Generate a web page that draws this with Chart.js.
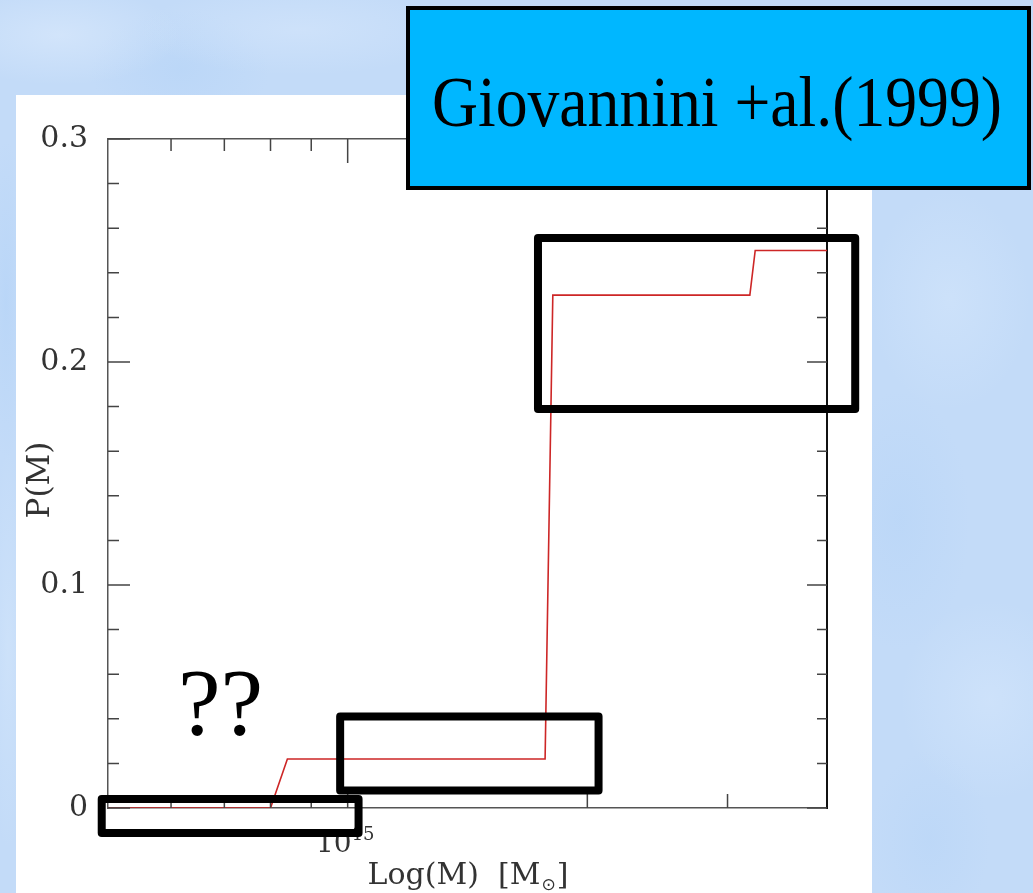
<!DOCTYPE html>
<html>
<head>
<meta charset="utf-8">
<script src="https://cdn.jsdelivr.net/npm/chart.js@4/dist/chart.umd.min.js"></script>
<style>
  html, body { margin: 0; padding: 0; }
  body {
    width: 1033px; height: 893px; overflow: hidden;
    background-color: #c3dbf8;
    background-image:
      radial-gradient(ellipse 120px 50px at 60px 35px, rgba(222,236,253,0.55), rgba(222,236,253,0) 100%),
      radial-gradient(ellipse 160px 45px at 300px 30px, rgba(216,232,252,0.5), rgba(216,232,252,0) 100%),
      radial-gradient(ellipse 90px 60px at 180px 70px, rgba(178,210,247,0.45), rgba(178,210,247,0) 100%),
      radial-gradient(ellipse 80px 110px at 950px 300px, rgba(216,233,252,0.45), rgba(216,233,252,0) 100%),
      radial-gradient(ellipse 70px 130px at 900px 520px, rgba(180,211,247,0.45), rgba(180,211,247,0) 100%),
      radial-gradient(ellipse 90px 100px at 990px 700px, rgba(218,234,253,0.45), rgba(218,234,253,0) 100%),
      radial-gradient(ellipse 60px 90px at 930px 840px, rgba(182,212,247,0.45), rgba(182,212,247,0) 100%),
      radial-gradient(ellipse 20px 160px at 6px 300px, rgba(176,209,247,0.5), rgba(176,209,247,0) 100%),
      radial-gradient(ellipse 20px 200px at 8px 650px, rgba(214,232,252,0.5), rgba(214,232,252,0) 100%);
  }
  canvas { position: absolute; left: 0; top: 0; }
</style>
</head>
<body>
<canvas id="chart" width="1033" height="893"></canvas>
<script>
// Cumulative probability P(M) of the step curve, by cluster mass [M_sun]
const stepMass = [5.0e14, 8.0e14, 8.4e14, 1.77e15, 1.81e15, 3.20e15, 3.25e15, 4.0e15];
const stepProb = [0, 0, 0.022, 0.022, 0.230, 0.230, 0.250, 0.250];

// Axis ranges and tick values
const massRange = [5.0e14, 4.0e15];
const massTicks = [6e14, 7e14, 8e14, 9e14, 1e15, 2e15, 3e15];
const massMajor = [1e15, 2e15, 3e15];
const probRange = [0, 0.3];
const probTicks = [0, 0.02, 0.04, 0.06, 0.08, 0.1, 0.12, 0.14, 0.16, 0.18, 0.2, 0.22, 0.24, 0.26, 0.28, 0.3];
const probMajor = [0, 0.1, 0.2, 0.3];
const probMajorText = ['0', '0.1', '0.2', '0.3'];

// Highlighted mass / probability regions
const boxMassFrom = [1.734e15, 0.9785e15, 0.491e15];
const boxMassTo   = [4.34e15, 2.066e15, 1.032e15];
const boxProbFrom = [0.1789, 0.0079, -0.0112];
const boxProbTo   = [0.2556, 0.0410, 0.0040];

const citation = 'Giovannini +al.(1999)';
const questionMark = '??';

const isMajor = (list, v) => list.some(m => Math.abs(m - v) < 1e-9 * Math.max(1, Math.abs(m)));

const decorations = {
  id: 'decorations',
  beforeDraw(chart) {
    const ctx = chart.ctx;
    ctx.save();
    ctx.fillStyle = '#ffffff';
    ctx.fillRect(16, 95, 856, 798);
    ctx.restore();
  },
  afterDraw(chart) {
    const ctx = chart.ctx;
    const { x, y, xTop, yRight } = chart.scales;
    const area = chart.chartArea;
    ctx.save();

    // inward tick marks on all four sides
    ctx.strokeStyle = '#444';
    ctx.lineWidth = 1.5;
    ctx.beginPath();
    y.ticks.forEach(t => {
      const py = y.getPixelForValue(t.value);
      const len = isMajor(probMajor, t.value) ? 22 : 11;
      ctx.moveTo(area.left, py); ctx.lineTo(area.left + len, py);
    });
    yRight.ticks.forEach(t => {
      const py = yRight.getPixelForValue(t.value);
      const len = isMajor(probMajor, t.value) ? 20 : 10;
      ctx.moveTo(area.right, py); ctx.lineTo(area.right - len, py);
    });
    x.ticks.forEach(t => {
      const px = x.getPixelForValue(t.value);
      const len = isMajor(massMajor, t.value) ? 14 : 9;
      ctx.moveTo(px, area.bottom); ctx.lineTo(px, area.bottom - len);
    });
    xTop.ticks.forEach(t => {
      const px = xTop.getPixelForValue(t.value);
      const len = isMajor(massMajor, t.value) ? 24 : 12;
      ctx.moveTo(px, area.top); ctx.lineTo(px, area.top + len);
    });
    ctx.stroke();

    // x tick label 10^15
    const p15 = x.getPixelForValue(1e15);
    ctx.fillStyle = '#333';
    ctx.textBaseline = 'alphabetic';
    ctx.font = '28px "DejaVu Serif"';
    ctx.textAlign = 'right';
    ctx.fillText('10', p15 + 4, area.bottom + 44);
    ctx.font = '18px "DejaVu Serif"';
    ctx.textAlign = 'left';
    ctx.fillText('15', p15 + 4, area.bottom + 32);

    // axis titles
    ctx.fillStyle = '#333';
    ctx.font = '30px "DejaVu Serif"';
    const t1 = 'Log(M)  [M';
    const wMain = ctx.measureText(t1).width;
    ctx.font = '17px "DejaVu Sans"';
    const wSun = ctx.measureText('\u2299').width;
    ctx.font = '30px "DejaVu Serif"';
    const wEnd = ctx.measureText(']').width;
    const total = wMain + wSun + 2 + wEnd;
    let tx = 468 - total / 2;
    const base = 884;
    ctx.textAlign = 'left';
    ctx.fillText(t1, tx, base);
    tx += wMain + 1;
    ctx.font = '17px "DejaVu Sans"';
    ctx.fillText('\u2299', tx, base + 6);
    tx += wSun + 1;
    ctx.font = '30px "DejaVu Serif"';
    ctx.fillText(']', tx, base);

    ctx.save();
    ctx.translate(49, 480);
    ctx.rotate(-Math.PI / 2);
    ctx.textAlign = 'center';
    ctx.font = '31px "DejaVu Serif"';
    ctx.fillText('P(M)', 0, 0);
    ctx.restore();

    // question marks
    ctx.fillStyle = '#000';
    ctx.font = '96px "Liberation Serif"';
    ctx.textAlign = 'left';
    ctx.fillText(questionMark, 178, 735);

    // highlight boxes, positioned by data coordinates
    ctx.strokeStyle = '#000';
    ctx.lineWidth = 8;
    ctx.lineJoin = 'round';
    boxMassFrom.forEach((m0, i) => {
      const x0 = x.getPixelForValue(m0);
      const x1 = x.getPixelForValue(boxMassTo[i]);
      const y0 = y.getPixelForValue(boxProbTo[i]);
      const y1 = y.getPixelForValue(boxProbFrom[i]);
      ctx.strokeRect(x0, y0, x1 - x0, y1 - y0);
    });

    // citation panel
    ctx.lineJoin = 'miter';
    ctx.fillStyle = '#00b7ff';
    ctx.fillRect(408, 8, 621, 180);
    ctx.lineWidth = 4;
    ctx.strokeStyle = '#000';
    ctx.strokeRect(408, 8, 621, 180);
    ctx.fillStyle = '#000';
    const fs = 72;
    ctx.font = fs + 'px "Liberation Serif"';
    const sx = 570 / ctx.measureText(citation).width;
    ctx.translate(717, 126);
    ctx.scale(sx, 1);
    ctx.textAlign = 'center';
    ctx.fillText(citation, 0, 0);

    ctx.restore();
  }
};

const fixedSize = (prop, size) => (scale) => { scale[prop] = size; };

new Chart(document.getElementById('chart'), {
  type: 'line',
  data: {
    datasets: [{
      data: stepMass.map((m, i) => ({ x: m, y: stepProb[i] })),
      borderColor: 'rgb(205,38,38)',
      borderWidth: 1.6,
      pointRadius: 0,
      tension: 0,
      fill: false,
      xAxisID: 'x',
      yAxisID: 'y'
    }]
  },
  options: {
    responsive: false,
    devicePixelRatio: 1,
    animation: false,
    events: [],
    layout: { padding: 0, autoPadding: false },
    plugins: { legend: { display: false }, tooltip: { enabled: false } },
    scales: {
      x: {
        type: 'logarithmic', position: 'bottom',
        min: massRange[0], max: massRange[1],
        afterBuildTicks: (s) => { s.ticks = massTicks.map(v => ({ value: v })); },
        afterFit: fixedSize('height', 85),
        ticks: { display: false },
        grid: { display: false, drawTicks: false },
        border: { display: true, color: '#555', width: 1.5 }
      },
      xTop: {
        type: 'logarithmic', position: 'top',
        min: massRange[0], max: massRange[1],
        afterBuildTicks: (s) => { s.ticks = massTicks.map(v => ({ value: v })); },
        afterFit: fixedSize('height', 139),
        ticks: { display: false },
        grid: { display: false, drawTicks: false },
        border: { display: true, color: '#555', width: 1.5 }
      },
      y: {
        type: 'linear', position: 'left',
        min: probRange[0], max: probRange[1],
        afterBuildTicks: (s) => { s.ticks = probTicks.map(v => ({ value: v })); },
        afterFit: fixedSize('width', 108),
        ticks: {
          padding: 20,
          color: '#333',
          font: { family: '"DejaVu Serif"', size: 30 },
          callback: (v) => {
            const k = probMajor.findIndex(m => Math.abs(m - v) < 1e-9);
            return k >= 0 ? probMajorText[k] : '';
          }
        },
        grid: { display: false, drawTicks: false },
        border: { display: true, color: '#555', width: 1.5 }
      },
      yRight: {
        type: 'linear', position: 'right',
        min: probRange[0], max: probRange[1],
        afterBuildTicks: (s) => { s.ticks = probTicks.map(v => ({ value: v })); },
        afterFit: fixedSize('width', 206),
        ticks: { display: false },
        grid: { display: false, drawTicks: false },
        border: { display: true, color: '#111', width: 2 }
      }
    }
  },
  plugins: [decorations]
});
</script>
</body>
</html>
